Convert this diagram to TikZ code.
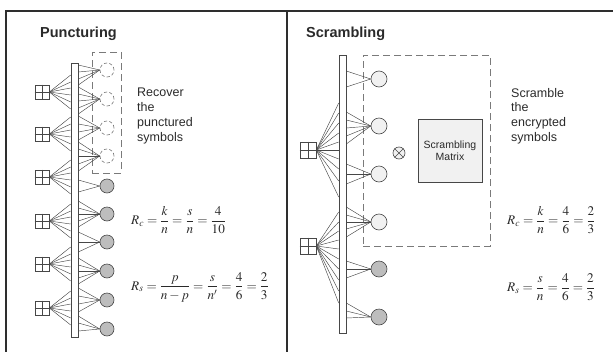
\documentclass[tikz,border=0pt]{standalone}
\usepackage{amsmath}
\usepackage{mathptmx}
\usepackage[no-math]{fontspec}
\setmainfont{Liberation Sans}
\definecolor{framec}{HTML}{2E2E2E}
\definecolor{linec}{HTML}{474747}
\definecolor{txtc}{HTML}{2A2A2A}
\definecolor{filledc}{HTML}{BDBDBD}
\definecolor{lightc}{HTML}{F1F1F1}
\definecolor{dashc}{HTML}{7A7A7A}
\tikzset{
  frameline/.style={line width=2pt, draw=framec},
  wire/.style={draw=linec, line width=0.45pt},
  barbox/.style={draw=linec, fill=white, line width=0.6pt},
  checkbox/.style={draw=linec, fill=white, rectangle, inner sep=0pt, line width=0.6pt},
  punct/.style={draw=dashc, dashed, dash pattern=on 3.2pt off 2.2pt, fill=white, circle, minimum size=14pt, inner sep=0pt, line width=0.6pt},
  kept/.style={draw=linec, fill=filledc, circle, minimum size=14pt, inner sep=0pt, line width=0.6pt},
  lightv/.style={draw=linec, fill=lightc, circle, minimum size=16pt, inner sep=0pt, line width=0.6pt},
  darkv/.style={draw=linec, fill=filledc, circle, minimum size=16pt, inner sep=0pt, line width=0.6pt},
  dashbox/.style={draw=dashc, dash pattern=on 7pt off 4pt, line width=0.8pt},
  title/.style={font=\fontsize{14.5}{17}\selectfont\bfseries, text=txtc, anchor=west, inner sep=0pt},
  note/.style={font=\fontsize{12.5}{14.7}\selectfont, text=txtc, align=left, anchor=west, inner sep=0pt},
  eq/.style={font=\fontsize{13.2}{15}\selectfont, text=txtc, anchor=west, inner sep=0pt},
}
\begin{document}
\begin{tikzpicture}[x=1pt,y=-1pt]
\useasboundingbox (0,0) rectangle (613,351);
% frame
\draw[frameline] (6,352) -- (6,11) -- (614,11);
\draw[frameline] (287,11) -- (287,352);

% ---------------- Puncturing ----------------
\node[title] (t1) at (40,34) {Puncturing};
\node[dashbox, minimum width=29pt, minimum height=121pt, inner sep=0pt] (db1) at (106.5,112.5) {};
\node[barbox, minimum width=7pt, minimum height=274pt, inner sep=0pt] (barL) at (74.5,200) {};

% variable nodes
\foreach \i/\y in {1/70,2/99,3/128,4/156}{
  \node[punct] (vL\i) at (107,\y) {};
}
\foreach \i/\y in {5/186,6/214,7/242,8/271,9/300,10/329}{
  \node[kept] (vL\i) at (107,\y) {};
}
% check nodes
\foreach \i/\y in {1/92,2/134,3/177,4/221,5/264,6/308}{
  \node[checkbox, minimum size=14pt] (cL\i) at (42,\y) {};
  \draw[wire] (cL\i.north) -- (cL\i.south) (cL\i.west) -- (cL\i.east);
}
% check-to-bar wires
\foreach \i/\y in {1/92,2/134,3/177,4/221,5/264,6/308}{
  \foreach \o in {-17,-10,-4,3,10,17}{
    \draw[wire] (cL\i.east) -- (barL.west |- 0,\y+\o);
  }
}
% bar-to-variable wires
\foreach \i/\y/\offs in {1/70/{-5,2,9,15},2/99/{-12,-5,2,9,15},3/128/{-12,-4,4,12},4/156/{-14,-7,0,8,15},5/186/{-6,6},6/214/{-13,-6,0,7,13},7/242/{-10,0,10},8/271/{-13,-6,0,7,13},9/300/{-12,-4,4,12},10/329/{-13,-6,2}}{
  \foreach \o in \offs {
    \draw[wire] (barL.east |- 0,\y+\o) -- (vL\i.west);
  }
}
\node[note] (n1) at (137,116) {Recover\\the\\punctured\\symbols};
\node[eq] (e1) at (131,220) {$R_c=\dfrac{k}{n}=\dfrac{s}{n}=\dfrac{4}{10}$};
\node[eq] (e2) at (131,287) {$R_s=\dfrac{p}{n-p}=\dfrac{s}{n'}=\dfrac{4}{6}=\dfrac{2}{3}$};

% ---------------- Scrambling ----------------
\node[title] (t2) at (306,34) {Scrambling};
\node[dashbox, minimum width=127pt, minimum height=191pt, inner sep=0pt] (db2) at (426.5,150.5) {};
\node[barbox, minimum width=7pt, minimum height=278pt, inner sep=0pt] (barR) at (342.5,194) {};

\foreach \i/\y in {1/79,2/126,3/174,4/222}{
  \node[lightv] (vR\i) at (379,\y) {};
}
\foreach \i/\y in {5/269,6/317}{
  \node[darkv] (vR\i) at (379,\y) {};
}
\foreach \i/\y in {1/150,2/246}{
  \node[checkbox, minimum size=16pt] (cR\i) at (308,\y) {};
  \draw[wire] (cR\i.north) -- (cR\i.south) (cR\i.west) -- (cR\i.east);
}
\foreach \o in {-47,-37,-27,-17,-8,0,9,19,31,47}{
  \draw[wire] (cR1.east) -- (barR.west |- 0,150+\o);
}
\foreach \o in {-34,-24,-15,-6,3,13,23,34,45,57}{
  \draw[wire] (cR2.east) -- (barR.west |- 0,246+\o);
}
\foreach \i/\y/\offs in {1/79/{-8,8},2/126/{-14,-6,2,10,18},3/174/{-10,0,10},4/222/{-15,-7,0,7,15},5/269/{-8,0,9},6/317/{-14,-6,1}}{
  \foreach \o in \offs {
    \draw[wire] (barR.east |- 0,\y+\o) -- (vR\i.west);
  }
}
\node[draw=linec, fill=lightc, circle, minimum size=12pt, inner sep=0pt, line width=0.6pt] (ot) at (399,153) {};
\draw[wire, line width=0.6pt] (ot.north west) -- (ot.south east) (ot.north east) -- (ot.south west);
\node[draw=linec, fill=lightc, minimum width=64pt, minimum height=63pt, inner sep=0pt, line width=0.6pt,
      font=\fontsize{10.5}{12.5}\selectfont, text=txtc, align=center] (sm) at (450,150.5) {Scrambling\\Matrix};
\node[note] (n2) at (511,116) {Scramble\\the\\encrypted\\symbols};
\node[eq] (e3) at (507,220) {$R_c=\dfrac{k}{n}=\dfrac{4}{6}=\dfrac{2}{3}$};
\node[eq] (e4) at (507,287) {$R_s=\dfrac{s}{n}=\dfrac{4}{6}=\dfrac{2}{3}$};
\end{tikzpicture}
\end{document}
